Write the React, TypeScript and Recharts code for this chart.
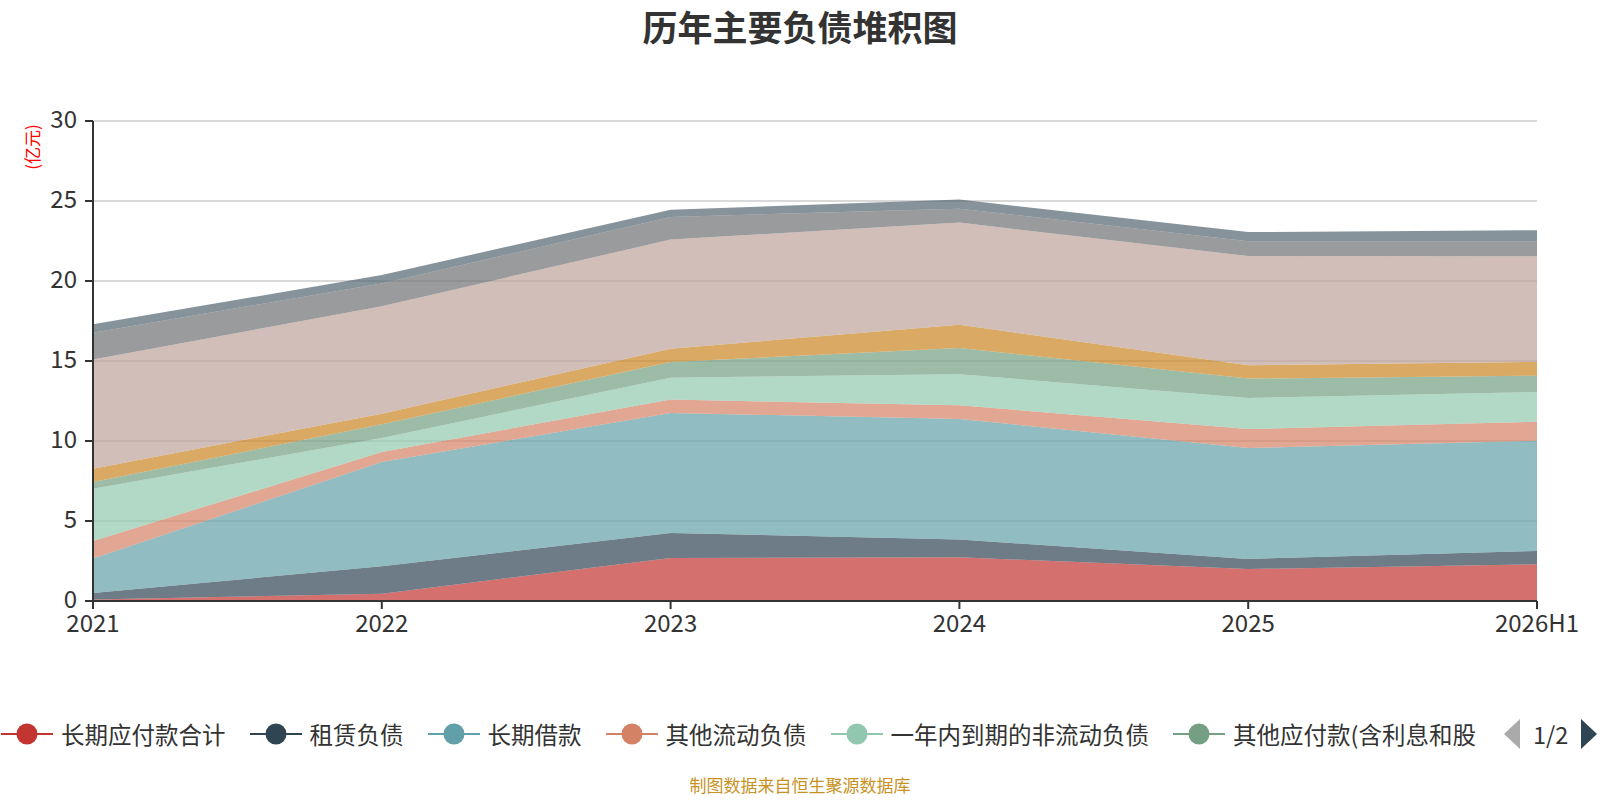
import { AreaChart, Area, XAxis, YAxis, CartesianGrid } from "recharts";

const years = ["2021", "2022", "2023", "2024", "2025", "2026H1"];

// 单位：亿元
const longTermPayables = [0.1, 0.46, 2.69, 2.73, 2.0, 2.29];
const leaseLiabilities = [0.4, 1.71, 1.56, 1.11, 0.63, 0.84];
const longTermLoans = [2.15, 6.52, 7.5, 7.54, 6.93, 6.89];
const otherCurrent = [1.1, 0.62, 0.84, 0.85, 1.19, 1.19];
const currentPortion = [3.27, 0.88, 1.37, 1.94, 1.94, 1.85];
const otherPayables = [0.42, 0.85, 0.98, 1.64, 1.21, 1.02];
const staffPay = [0.83, 0.67, 0.83, 1.46, 0.83, 0.86];
const accountsPayable = [6.83, 6.71, 6.82, 6.38, 6.83, 6.6];
const contractLiab = [1.67, 1.43, 1.41, 0.87, 0.92, 0.94];
const taxesPayable = [0.52, 0.52, 0.46, 0.57, 0.58, 0.69];

const yTicks = [0, 5, 10, 15, 20, 25, 30];

const series = [
  { key: "长期应付款合计", values: longTermPayables, color: "#c23531" },
  { key: "租赁负债", values: leaseLiabilities, color: "#2f4554" },
  { key: "长期借款", values: longTermLoans, color: "#61a0a8" },
  { key: "其他流动负债", values: otherCurrent, color: "#d48265" },
  { key: "一年内到期的非流动负债", values: currentPortion, color: "#91c7ae" },
  { key: "其他应付款(含利息和股利)", values: otherPayables, color: "#749f83" },
  { key: "应付职工薪酬", values: staffPay, color: "#ca8622" },
  { key: "应付票据及应付账款", values: accountsPayable, color: "#bda29a" },
  { key: "合同负债", values: contractLiab, color: "#6e7074" },
  { key: "应交税费", values: taxesPayable, color: "#546570" },
];

const data = years.map((year, i) => {
  const row: Record<string, string | number> = { year };
  series.forEach((s) => (row[s.key] = s.values[i]));
  return row;
});

const font = '"Noto Sans CJK SC", "Noto Sans", sans-serif';

function shortName(name: string) {
  return name.length > 11 ? name.slice(0, 11) : name;
}

function LegendBar() {
  return (
    <div
      style={{
        position: "absolute",
        left: 1,
        top: 734,
        transform: "translateY(-50%)",
        display: "flex",
        alignItems: "center",
        gap: 24,
        fontFamily: font,
        fontSize: 23.5,
        color: "#333",
        whiteSpace: "nowrap",
      }}
    >
      {series.slice(0, 6).map((s) => (
        <div key={s.key} style={{ display: "flex", alignItems: "center", gap: 8 }}>
          <svg width={52} height={24}>
            <line x1={0} y1={12} x2={52} y2={12} stroke={s.color} strokeWidth={2} />
            <circle cx={26} cy={12} r={10.5} fill={s.color} />
          </svg>
          <span>{shortName(s.key)}</span>
        </div>
      ))}
      <div style={{ display: "flex", alignItems: "center", gap: 13, marginLeft: 4 }}>
        <svg width={16} height={30}>
          <polygon points="16,0 16,30 0,15" fill="#aaa" />
        </svg>
        <span>1/2</span>
        <svg width={16} height={30}>
          <polygon points="0,0 0,30 16,15" fill="#2f4554" />
        </svg>
      </div>
    </div>
  );
}

export default function App() {
  return (
    <div style={{ position: "absolute", left: 0, top: 0, width: 1600, height: 800, background: "#fff", overflow: "hidden" }}>
      <div
        style={{
          position: "absolute",
          top: 0,
          width: 1600,
          textAlign: "center",
          fontFamily: font,
          fontWeight: 700,
          fontSize: 35,
          color: "#333",
        }}
      >
        历年主要负债堆积图
      </div>
      <div
        style={{
          position: "absolute",
          left: 31,
          top: 147,
          transform: "translate(-50%, -50%) rotate(-90deg)",
          fontFamily: font,
          fontSize: 17,
          color: "#ff0000",
          whiteSpace: "nowrap",
        }}
      >
        (亿元)
      </div>
      <AreaChart
        width={1600}
        height={800}
        data={data}
        margin={{ top: 121, right: 63, left: 13, bottom: 159 }}
      >
        <CartesianGrid vertical={false} stroke="#ccc" strokeWidth={1.5} />
        <XAxis
          dataKey="year"
          height={40}
          tickSize={8}
          tickMargin={6}
          axisLine={{ stroke: "#333", strokeWidth: 2 }}
          tickLine={{ stroke: "#333", strokeWidth: 2 }}
          tick={{ fill: "#333", fontSize: 24, fontFamily: font }}
          interval={0}
        />
        <YAxis
          width={80}
          domain={[0, 30]}
          ticks={yTicks}
          tickSize={8}
          tickMargin={8}
          axisLine={{ stroke: "#333", strokeWidth: 2 }}
          tickLine={{ stroke: "#333", strokeWidth: 2 }}
          tick={{ fill: "#333", fontSize: 24, fontFamily: font, dy: -2 }}
        />
        {series.map((s) => (
          <Area
            key={s.key}
            type="linear"
            dataKey={s.key}
            stackId="total"
            stroke="none"
            fill={s.color}
            fillOpacity={0.7}
            isAnimationActive={false}
          />
        ))}
      </AreaChart>
      <LegendBar />
      <div
        style={{
          position: "absolute",
          top: 772,
          width: 1600,
          textAlign: "center",
          fontFamily: font,
          fontSize: 17,
          color: "#c8921f",
        }}
      >
        制图数据来自恒生聚源数据库
      </div>
    </div>
  );
}
